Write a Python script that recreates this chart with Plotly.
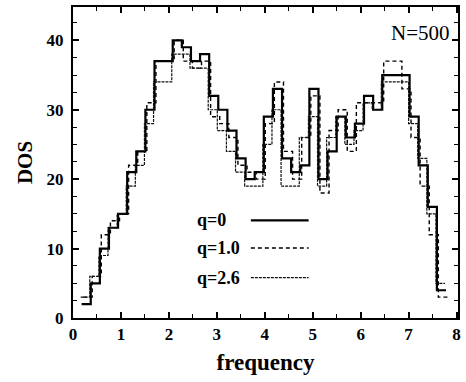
import numpy as np
import plotly.graph_objects as go

# ---- data ----
bin_width = 0.19
start_q0 = 0.18
start_q1 = 0.21
start_q26 = 0.16

dos_q0 = [2, 5, 10, 13, 15, 21, 24, 30, 37, 37,
          40, 39, 37, 38, 32, 30, 27, 23, 20, 21,
          29, 33, 23, 21, 22, 33, 20, 24, 29, 26,
          28, 32, 30, 35, 35, 35, 29, 22, 16, 4]
dos_q1 = [3, 6, 12, 14, 15, 22, 24, 31, 37, 37,
          40, 37, 36, 37, 29, 28, 26, 22, 21, 20,
          28, 34, 24, 20, 26, 32, 18, 27, 30, 24,
          31, 31, 31, 37, 37, 33, 26, 19, 12, 3]
dos_q26 = [3, 6, 9, 13, 15, 19, 22, 28, 34, 34,
           38, 38, 36, 36, 30, 27, 24, 21, 19, 19,
           25, 30, 19, 19, 26, 29, 19, 26, 29, 25,
           27, 31, 30, 34, 34, 34, 28, 23, 15, 5]

series = [
    ("q=0", dos_q0, start_q0, dict(color="black", width=2.2, dash="solid")),
    ("q=1.0", dos_q1, start_q1, dict(color="black", width=1.4, dash="4px,3px")),
    ("q=2.6", dos_q26, start_q26, dict(color="#111111", width=1.2, dash="3px,1px")),
]

x_ticks = [0, 1, 2, 3, 4, 5, 6, 7, 8]
y_ticks = [0, 10, 20, 30, 40]

fig = go.Figure()
for name, vals, start, line in series:
    edges = start + bin_width * np.arange(len(vals) + 1)
    fig.add_trace(go.Scatter(
        x=edges, y=list(vals) + [vals[-1]], mode="lines",
        line_shape="hv", line=line, name=name, showlegend=False,
        hoverinfo="skip"))

font_family = "Liberation Serif, Times New Roman, serif"

fig.update_layout(
    width=466, height=382,
    margin=dict(l=73, r=5, t=5, b=64),
    paper_bgcolor="white", plot_bgcolor="white",
    font=dict(family=font_family, color="black"),
    showlegend=False,
)

axis_common = dict(
    showline=True, linecolor="black", linewidth=2, mirror="ticks",
    ticks="inside", ticklen=6, tickwidth=1.5, tickcolor="black",
    showgrid=False, zeroline=False,
    tickfont=dict(family=font_family, size=17, color="black", weight="bold"),
)

fig.update_xaxes(
    range=[0, 8.03], tickvals=x_ticks,
    minor=dict(dtick=0.5, ticks="inside", ticklen=4, tickwidth=1.2, tickcolor="black"),
    title=dict(text="frequency", font=dict(family=font_family, size=23, weight="bold"),
               standoff=10),
    **axis_common,
)
fig.update_yaxes(
    range=[0, 44.8], tickvals=y_ticks,
    minor=dict(dtick=2.5, ticks="inside", ticklen=4, tickwidth=1.2, tickcolor="black"),
    title=dict(text="DOS", font=dict(family=font_family, size=21, weight="bold"),
               standoff=8),
    ticklabelstandoff=4,
    **axis_common,
)

# N=500 label
fig.add_annotation(
    text="N=500", xref="paper", yref="paper", x=0.985, y=0.915,
    xanchor="right", yanchor="middle", showarrow=False,
    font=dict(family=font_family, size=21, color="black"))

# legend (text followed by sample line)
legend_rows = [("q=0", 0.314, series[0][3]),
               ("q=1.0", 0.225, series[1][3]),
               ("q=2.6", 0.130, series[2][3])]
for label, yp, line in legend_rows:
    fig.add_annotation(
        text=label, xref="paper", yref="paper", x=0.318, y=yp,
        xanchor="left", yanchor="middle", showarrow=False,
        font=dict(family=font_family, size=18, color="black", weight="bold"))
    fig.add_shape(type="line", xref="paper", yref="paper",
                  x0=0.462, x1=0.612, y0=yp, y1=yp, line=line)

fig.write_html("out.html")
